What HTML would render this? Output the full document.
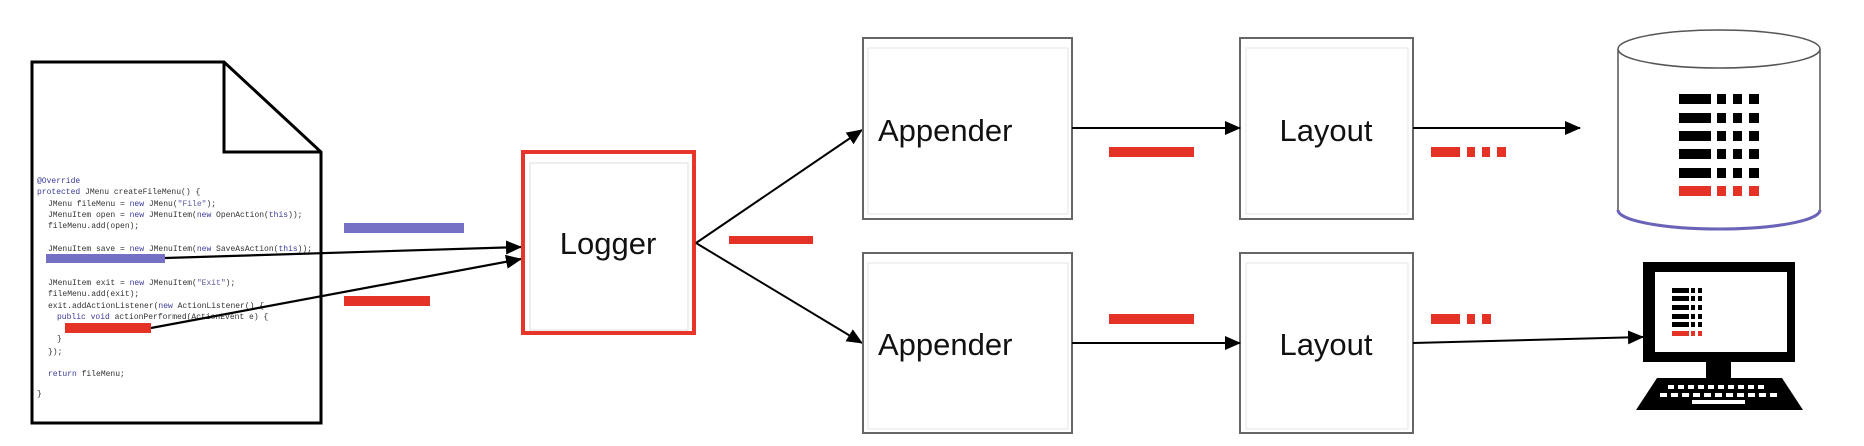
<!DOCTYPE html>
<html><head><meta charset="utf-8"><style>
html,body{margin:0;padding:0;background:#fff;width:1864px;height:446px;overflow:hidden}
svg{display:block}
.code{font-family:"Liberation Mono",monospace;font-size:8px;fill:#333}
.k{fill:#3b3b9a}
.s{fill:#5a5aa0}
.lbl{font-family:"Liberation Sans",sans-serif;font-size:31px;fill:#111}
</style></head><body>
<svg width="1864" height="446" viewBox="0 0 1864 446" xmlns="http://www.w3.org/2000/svg">
<defs>
<marker id="a" markerWidth="10" markerHeight="10" refX="9" refY="5" orient="auto" markerUnits="userSpaceOnUse" viewBox="0 0 10 10">
<path d="M0,0 L10,5 L0,10 z" fill="#000"/></marker>
<marker id="b" markerWidth="16" markerHeight="14" refX="15" refY="7" orient="auto" markerUnits="userSpaceOnUse" viewBox="0 0 16 14">
<path d="M0,0 L16,7 L0,14 z" fill="#000"/></marker>
</defs>
<!-- document -->
<path d="M32,62 L224,62 L321,152 L321,423 L32,423 Z" fill="#fff" stroke="#000" stroke-width="3"/>
<path d="M224,62 L224,152 L321,152" fill="none" stroke="#000" stroke-width="3"/>
<g class="code">
<text x="37" y="183" class="k">@Override</text>
<text x="37" y="194"><tspan class="k">protected</tspan> JMenu createFileMenu() {</text>
<text x="48" y="206">JMenu fileMenu = <tspan class="k">new</tspan> JMenu(<tspan class="s">"File"</tspan>);</text>
<text x="48" y="217">JMenuItem open = <tspan class="k">new</tspan> JMenuItem(<tspan class="k">new</tspan> OpenAction(<tspan class="k">this</tspan>));</text>
<text x="48" y="228">fileMenu.add(open);</text>
<text x="48" y="251">JMenuItem save = <tspan class="k">new</tspan> JMenuItem(<tspan class="k">new</tspan> SaveAsAction(<tspan class="k">this</tspan>));</text>
<text x="48" y="285">JMenuItem exit = <tspan class="k">new</tspan> JMenuItem(<tspan class="s">"Exit"</tspan>);</text>
<text x="48" y="296">fileMenu.add(exit);</text>
<text x="48" y="308">exit.addActionListener(<tspan class="k">new</tspan> ActionListener() {</text>
<text x="57" y="319"><tspan class="k">public void</tspan> actionPerformed(ActionEvent e) {</text>
<text x="57" y="341">}</text>
<text x="48" y="354">});</text>
<text x="48" y="376"><tspan class="k">return</tspan> fileMenu;</text>
<text x="37" y="396">}</text>
</g>
<rect x="46" y="254" width="119" height="9" fill="#7470c4"/>
<rect x="65" y="323" width="86" height="10" fill="#e53226"/>
<rect x="344" y="223" width="120" height="10" fill="#7470c4"/>
<rect x="344" y="296" width="86" height="10" fill="#e53226"/>
<line x1="165" y1="258" x2="521" y2="247" stroke="#000" stroke-width="2.2" marker-end="url(#b)"/>
<line x1="151" y1="328" x2="521" y2="259" stroke="#000" stroke-width="2.2" marker-end="url(#b)"/>
<!-- logger -->
<rect x="523" y="152" width="171" height="181" fill="#fff" stroke="#e8352a" stroke-width="4"/>
<rect x="530" y="163" width="158" height="167" fill="none" stroke="#ddd" stroke-width="1"/>
<text x="608" y="254" class="lbl" text-anchor="middle">Logger</text>
<line x1="696" y1="243" x2="862" y2="130" stroke="#000" stroke-width="2" marker-end="url(#b)"/>
<line x1="696" y1="243" x2="862" y2="343" stroke="#000" stroke-width="2" marker-end="url(#b)"/>
<rect x="729" y="236" width="84" height="8" fill="#e53226"/>
<!-- appenders -->
<rect x="863" y="38" width="209" height="181" fill="#fff" stroke="#666" stroke-width="2"/>
<rect x="868" y="48" width="200" height="166" fill="none" stroke="#e4e4e4"/>
<text x="878" y="141" class="lbl">Appender</text>
<rect x="863" y="253" width="209" height="180" fill="#fff" stroke="#666" stroke-width="2"/>
<rect x="868" y="263" width="200" height="166" fill="none" stroke="#e4e4e4"/>
<text x="878" y="355" class="lbl">Appender</text>
<!-- layouts -->
<rect x="1240" y="38" width="173" height="181" fill="#fff" stroke="#666" stroke-width="2"/>
<rect x="1246" y="48" width="162" height="166" fill="none" stroke="#e4e4e4"/>
<text x="1326" y="141" class="lbl" text-anchor="middle">Layout</text>
<rect x="1240" y="253" width="173" height="180" fill="#fff" stroke="#666" stroke-width="2"/>
<rect x="1246" y="263" width="162" height="166" fill="none" stroke="#e4e4e4"/>
<text x="1326" y="355" class="lbl" text-anchor="middle">Layout</text>
<line x1="1072" y1="128" x2="1240" y2="128" stroke="#000" stroke-width="2" marker-end="url(#b)"/>
<line x1="1072" y1="343" x2="1240" y2="343" stroke="#000" stroke-width="2" marker-end="url(#b)"/>
<rect x="1109" y="147" width="85" height="10" fill="#e53226"/>
<rect x="1109" y="314" width="85" height="10" fill="#e53226"/>
<line x1="1413" y1="128" x2="1580" y2="128" stroke="#000" stroke-width="2" marker-end="url(#b)"/>
<line x1="1413" y1="343" x2="1643" y2="337" stroke="#000" stroke-width="2" marker-end="url(#b)"/>
<g fill="#e53226">
<rect x="1431" y="147" width="29" height="10"/><rect x="1467" y="147" width="8" height="10"/><rect x="1482" y="147" width="8" height="10"/><rect x="1497" y="147" width="9" height="10"/>
<rect x="1431" y="314" width="29" height="10"/><rect x="1467" y="314" width="8" height="10"/><rect x="1482" y="314" width="9" height="10"/>
</g>
<!-- cylinder -->
<path d="M1618,49 L1618,210 A101,19 0 0 0 1820,210 L1820,49" fill="#fff" stroke="#555" stroke-width="1.5"/>
<path d="M1618,210 A101,19 0 0 0 1820,210" fill="none" stroke="#6a64b8" stroke-width="3"/>
<ellipse cx="1719" cy="49" rx="101" ry="19" fill="#fff" stroke="#555" stroke-width="1.5"/>
<g fill="#000">
<rect x="1679" y="94" width="32" height="10"/><rect x="1717" y="94" width="9" height="10"/><rect x="1733" y="94" width="9" height="10"/><rect x="1749" y="94" width="10" height="10"/>
<rect x="1679" y="113" width="32" height="10"/><rect x="1717" y="113" width="9" height="10"/><rect x="1733" y="113" width="9" height="10"/><rect x="1749" y="113" width="10" height="10"/>
<rect x="1679" y="131" width="32" height="10"/><rect x="1717" y="131" width="9" height="10"/><rect x="1733" y="131" width="9" height="10"/><rect x="1749" y="131" width="10" height="10"/>
<rect x="1679" y="149" width="32" height="10"/><rect x="1717" y="149" width="9" height="10"/><rect x="1733" y="149" width="9" height="10"/><rect x="1749" y="149" width="10" height="10"/>
<rect x="1679" y="168" width="32" height="10"/><rect x="1717" y="168" width="9" height="10"/><rect x="1733" y="168" width="9" height="10"/><rect x="1749" y="168" width="10" height="10"/>
</g>
<g fill="#e53226"><rect x="1679" y="186" width="32" height="10"/><rect x="1717" y="186" width="9" height="10"/><rect x="1733" y="186" width="9" height="10"/><rect x="1749" y="186" width="10" height="10"/></g>
<!-- monitor -->
<rect x="1643" y="262" width="152" height="100" fill="#000"/>
<rect x="1655" y="272" width="132" height="80" fill="#fff"/>
<rect x="1706" y="362" width="25" height="16" fill="#000"/>
<path d="M1657,378 L1782,378 L1803,410 L1636,410 Z" fill="#000"/>
<g fill="#fff">
<rect x="1668" y="385" width="6" height="4"/><rect x="1678" y="385" width="6" height="4"/><rect x="1688" y="385" width="6" height="4"/><rect x="1698" y="385" width="6" height="4"/><rect x="1708" y="385" width="6" height="4"/><rect x="1718" y="385" width="6" height="4"/><rect x="1728" y="385" width="6" height="4"/><rect x="1738" y="385" width="6" height="4"/><rect x="1748" y="385" width="6" height="4"/><rect x="1758" y="385" width="6" height="4"/>
<rect x="1660" y="393" width="7" height="4"/><rect x="1671" y="393" width="7" height="4"/><rect x="1682" y="393" width="7" height="4"/><rect x="1693" y="393" width="7" height="4"/><rect x="1704" y="393" width="7" height="4"/><rect x="1715" y="393" width="7" height="4"/><rect x="1726" y="393" width="7" height="4"/><rect x="1737" y="393" width="7" height="4"/><rect x="1748" y="393" width="7" height="4"/><rect x="1759" y="393" width="7" height="4"/><rect x="1770" y="393" width="7" height="4"/>
<rect x="1692" y="400" width="53" height="4"/>
</g>
<g fill="#000">
<rect x="1672" y="288" width="17" height="5"/><rect x="1691" y="288" width="4" height="5"/><rect x="1698" y="288" width="4" height="5"/>
<rect x="1672" y="296" width="17" height="5"/><rect x="1691" y="296" width="4" height="5"/><rect x="1698" y="296" width="4" height="5"/>
<rect x="1672" y="305" width="17" height="5"/><rect x="1691" y="305" width="4" height="5"/><rect x="1698" y="305" width="4" height="5"/>
<rect x="1672" y="314" width="17" height="5"/><rect x="1691" y="314" width="4" height="5"/><rect x="1698" y="314" width="4" height="5"/>
<rect x="1672" y="322" width="17" height="5"/><rect x="1691" y="322" width="4" height="5"/><rect x="1698" y="322" width="4" height="5"/>
</g>
<g fill="#e53226"><rect x="1672" y="331" width="17" height="5"/><rect x="1691" y="331" width="4" height="5"/><rect x="1698" y="331" width="4" height="5"/></g>
</svg>
</body></html>
